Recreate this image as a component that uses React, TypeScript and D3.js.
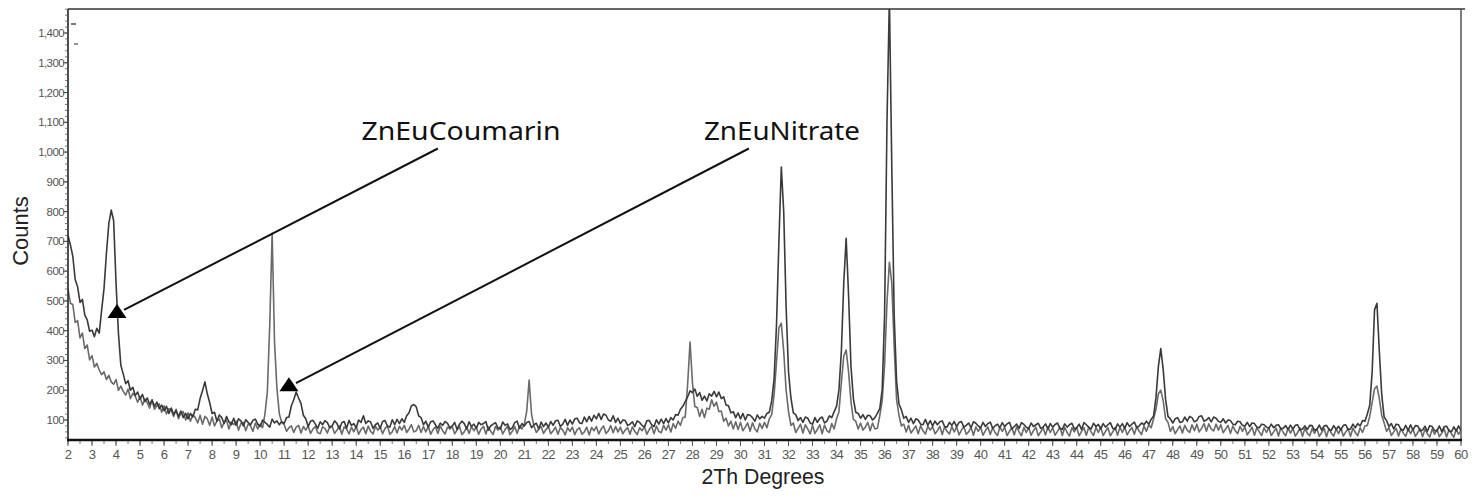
import React from "react";
import * as d3 from "d3";

// Scan grid (2θ, degrees)
const scanStart = 2;
const scanStep = 0.1;

// ZnEuCoumarin counts, one value per 0.1° from 2.0° to 60.0°
const coumarinCounts = [
  720, 688, 650, 572, 548, 495, 505, 452, 436, 398,
  402, 380, 408, 392, 468, 542, 660, 760, 805, 770,
  560, 392, 284, 255, 222, 232, 200, 210, 182, 194,
  170, 186, 162, 174, 152, 168, 146, 160, 138, 150,
  131, 146, 122, 140, 118, 132, 112, 130, 108, 122,
  104, 122, 110, 136, 134, 172, 198, 228, 188, 158,
  122, 126, 96, 117, 108, 88, 112, 94, 84, 106,
  82, 104, 97, 80, 101, 92, 84, 99, 103, 86,
  78, 100, 92, 85, 76, 103, 90, 97, 84, 95,
  88, 108, 110, 148, 168, 194, 174, 156, 116, 104,
  78, 96, 99, 86, 72, 94, 84, 98, 91, 74,
  80, 97, 88, 70, 91, 95, 72, 99, 82, 88,
  74, 100, 92, 114, 88, 97, 93, 72, 84, 90,
  72, 95, 98, 80, 76, 101, 84, 102, 88, 104,
  92, 114, 124, 148, 152, 144, 114, 108, 84, 96,
  76, 94, 97, 84, 72, 90, 82, 95, 89, 74,
  80, 92, 68, 86, 96, 88, 70, 94, 78, 86,
  72, 92, 84, 88, 95, 66, 80, 86, 91, 74,
  70, 93, 82, 87, 68, 74, 91, 96, 72, 88,
  80, 92, 95, 74, 84, 89, 70, 93, 78, 90,
  76, 95, 82, 97, 99, 78, 86, 102, 82, 100,
  86, 104, 106, 90, 88, 110, 94, 112, 96, 116,
  104, 122, 102, 120, 116, 100, 96, 114, 92, 106,
  88, 100, 98, 82, 86, 94, 78, 97, 92, 82,
  76, 97, 99, 84, 78, 101, 86, 103, 88, 105,
  90, 108, 100, 118, 116, 136, 146, 162, 178, 198,
  192, 204, 180, 192, 166, 180, 164, 188, 180, 196,
  178, 194, 172, 178, 150, 148, 124, 128, 108, 124,
  104, 122, 100, 118, 116, 108, 96, 117, 104, 112,
  106, 122, 126, 164, 238, 420, 700, 950, 800, 480,
  262, 174, 124, 118, 98, 108, 92, 110, 106, 90,
  86, 108, 92, 105, 110, 90, 96, 114, 108, 128,
  146, 202, 330, 560, 710, 520, 282, 172, 126, 122,
  106, 118, 102, 116, 114, 100, 108, 122, 138, 202,
  450, 1100, 1520, 950, 450, 230, 154, 134, 106, 112,
  92, 106, 88, 104, 100, 86, 84, 102, 82, 98,
  80, 96, 84, 94, 97, 78, 76, 92, 82, 95,
  78, 92, 95, 76, 82, 90, 74, 94, 89, 80,
  74, 92, 78, 88, 93, 72, 80, 86, 74, 91,
  78, 87, 92, 70, 78, 86, 72, 91, 85, 76,
  70, 90, 78, 84, 89, 72, 76, 87, 70, 88,
  76, 85, 90, 72, 68, 87, 76, 84, 89, 70,
  74, 86, 68, 91, 84, 76, 70, 89, 78, 85,
  70, 88, 76, 84, 91, 72, 68, 87, 76, 88,
  72, 91, 78, 86, 93, 74, 80, 90, 84, 96,
  86, 102, 114, 175, 280, 340, 270, 170, 112, 104,
  90, 104, 108, 92, 94, 110, 96, 112, 108, 94,
  98, 112, 114, 96, 100, 108, 94, 110, 106, 96,
  92, 104, 90, 100, 98, 86, 84, 96, 94, 82,
  80, 92, 78, 90, 88, 76, 74, 86, 84, 76,
  72, 86, 74, 82, 84, 70, 72, 81, 68, 83,
  70, 82, 84, 66, 70, 80, 68, 82, 81, 66,
  68, 83, 66, 80, 82, 69, 65, 81, 68, 79,
  66, 82, 84, 68, 70, 86, 74, 88, 80, 98,
  96, 120, 150, 260, 470, 492, 330, 185, 110, 98,
  78, 88, 70, 86, 84, 68, 66, 82, 64, 84,
  66, 81, 80, 63, 66, 79, 62, 81, 78, 64,
  63, 80, 61, 78, 79, 64, 60, 77, 63, 80,
  64,
];

// ZnEuNitrate counts, one value per 0.1° from 2.0° to 60.0°
const nitrateCounts = [
  540, 492, 488, 428, 434, 376, 392, 340, 352, 302,
  316, 278, 290, 268, 252, 262, 236, 250, 228, 220,
  236, 200, 214, 196, 184, 204, 172, 190, 180, 160,
  178, 150, 170, 158, 140, 166, 136, 148, 154, 126,
  148, 120, 138, 132, 112, 136, 104, 124, 128, 100,
  124, 96, 118, 108, 90, 116, 86, 112, 104, 82,
  110, 80, 96, 104, 74, 92, 100, 70, 94, 84,
  96, 66, 88, 92, 64, 86, 80, 62, 90, 70,
  86, 74, 120, 195, 420, 727, 360, 205, 120, 92,
  84, 62, 74, 80, 58, 76, 82, 56, 78, 66,
  80, 55, 70, 78, 57, 54, 77, 72, 56, 79,
  78, 55, 66, 80, 52, 77, 70, 53, 76, 60,
  79, 52, 68, 76, 54, 80, 62, 53, 79, 66,
  76, 54, 72, 80, 52, 60, 78, 56, 79, 66,
  82, 58, 70, 84, 60, 64, 82, 58, 78, 60,
  79, 52, 68, 77, 55, 80, 64, 53, 76, 70,
  77, 54, 66, 79, 51, 60, 76, 55, 78, 64,
  76, 52, 70, 79, 53, 77, 62, 51, 78, 66,
  77, 53, 68, 79, 51, 62, 78, 55, 80, 70,
  86, 130, 234, 120, 80, 58, 70, 78, 55, 68,
  77, 54, 64, 76, 52, 75, 66, 50, 74, 62,
  76, 51, 68, 74, 52, 60, 76, 50, 75, 64,
  78, 53, 70, 80, 55, 64, 81, 57, 78, 60,
  76, 54, 66, 75, 52, 77, 61, 51, 74, 64,
  77, 52, 68, 78, 54, 80, 62, 57, 82, 66,
  84, 60, 88, 72, 96, 82, 108, 110, 220, 362,
  225, 145, 142, 112, 136, 108, 140, 136, 168, 146,
  160, 128, 130, 96, 106, 80, 96, 70, 94, 68,
  92, 64, 76, 90, 62, 91, 70, 60, 89, 72,
  92, 74, 104, 118, 185, 295, 410, 425, 330, 200,
  128, 82, 90, 58, 72, 86, 56, 84, 70, 53,
  82, 55, 68, 84, 54, 83, 64, 58, 88, 70,
  104, 128, 225, 315, 335, 262, 162, 102, 96, 70,
  90, 66, 76, 92, 64, 90, 70, 72, 115, 165,
  285, 495, 630, 560, 345, 168, 116, 80, 86, 60,
  82, 56, 68, 80, 54, 81, 64, 53, 79, 66,
  78, 54, 64, 79, 51, 77, 62, 53, 78, 60,
  77, 50, 66, 78, 52, 60, 76, 49, 77, 62,
  75, 49, 64, 77, 51, 74, 58, 48, 76, 62,
  76, 48, 62, 74, 50, 77, 60, 47, 75, 58,
  75, 49, 64, 76, 47, 60, 74, 50, 76, 58,
  74, 49, 62, 76, 48, 75, 58, 46, 74, 60,
  75, 47, 62, 74, 49, 76, 60, 48, 75, 58,
  76, 48, 62, 74, 47, 60, 75, 49, 76, 58,
  76, 50, 64, 75, 52, 78, 62, 51, 80, 62,
  84, 74, 104, 136, 188, 200, 165, 104, 92, 62,
  78, 54, 68, 80, 56, 82, 66, 58, 84, 64,
  86, 60, 72, 88, 62, 87, 70, 63, 86, 66,
  84, 57, 70, 82, 55, 80, 64, 54, 79, 62,
  77, 50, 62, 76, 49, 75, 60, 48, 74, 58,
  74, 48, 60, 73, 46, 74, 58, 47, 72, 56,
  72, 46, 58, 73, 45, 72, 56, 47, 71, 55,
  71, 45, 58, 72, 44, 71, 56, 46, 70, 54,
  72, 46, 60, 71, 45, 73, 58, 47, 74, 58,
  80, 82, 112, 158, 205, 214, 172, 116, 90, 62,
  74, 48, 60, 72, 46, 71, 56, 45, 70, 54,
  70, 45, 58, 71, 44, 69, 54, 43, 70, 52,
  69, 44, 56, 70, 43, 68, 54, 42, 69, 52,
  66,
];

const xTicks = d3.range(2, 61, 1);
const xMinorTicks = d3.range(2, 60.01, 0.5);
const yTicks = [100, 200, 300, 400, 500, 600, 700, 800, 900, 1000, 1100, 1200, 1300, 1400];
const yMinorTicks = d3.range(40, 1481, 20);

// Annotation labels (data coordinates: 2θ, counts)
const annotationLabels = ["ZnEuCoumarin", "ZnEuNitrate"];
const annotationTextAt = [[14.22, 1040], [28.48, 1040]];
const annotationLineStart = [[17.4, 1012], [30.35, 1012]];
const annotationTip = [[4.04, 490], [11.2, 244]];
const annotationTextWidth = [199, 156];

const W = 1479;
const H = 498;
const left = 68;
const right = 1461;
const top = 9;
const bottom = 440;

export default function App() {
  const x = d3.scaleLinear().domain([2, 60]).range([left, right]);
  const y = d3.scaleLinear().domain([100, 1400]).range([420, 33]);

  const line = d3
    .line<number>()
    .x((_, i) => x(scanStart + i * scanStep))
    .y((d) => y(d));

  const fmt = d3.format(",");
  const tickFont = "'Liberation Sans', Arial, sans-serif";

  return (
    <svg
      width={W}
      height={H}
      style={{ position: "fixed", left: 0, top: 0, background: "#fff" }}
    >
      <defs>
        <clipPath id="plotClip">
          <rect x={left} y={top} width={right - left} height={bottom - top} />
        </clipPath>
      </defs>
      <rect x={0} y={0} width={W} height={H} fill="#fff" />

      {/* frame */}
      <line x1={left} y1={top} x2={right + 4} y2={top} stroke="#333" strokeWidth={1.5} />
      <line x1={right} y1={top} x2={right} y2={bottom} stroke="#555" strokeWidth={1.5} />

      {/* data */}
      <g clipPath="url(#plotClip)">
        <path d={line(nitrateCounts) || ""} fill="none" stroke="#6a6a6a" strokeWidth={1.6} strokeLinejoin="round" />
        <path d={line(coumarinCounts) || ""} fill="none" stroke="#3a3a3a" strokeWidth={1.6} strokeLinejoin="round" />
      </g>

      {/* small marks near top-left */}
      <line x1={71} y1={24} x2={76} y2={24} stroke="#333" strokeWidth={1.3} />
      <line x1={74} y1={44} x2={78} y2={44} stroke="#555" strokeWidth={1.3} />

      {/* y axis */}
      <line x1={left} y1={top} x2={left} y2={bottom + 2} stroke="#222" strokeWidth={1.6} />
      {yMinorTicks.map((v) => (
        <line key={"ym" + v} x1={left - 3} x2={left} y1={y(v)} y2={y(v)} stroke="#555" strokeWidth={0.8} />
      ))}
      {yTicks.map((v) => (
        <g key={"y" + v}>
          <line x1={left - 5} x2={left} y1={y(v)} y2={y(v)} stroke="#444" strokeWidth={1} />
          <text
            x={left - 4}
            y={y(v)}
            dy="0.35em"
            textAnchor="end"
            fontFamily={tickFont}
            fontSize={11.5}
            fill="#555"
            letterSpacing={-0.6}
          >
            {fmt(v)}
          </text>
        </g>
      ))}

      {/* x axis */}
      <line x1={left - 1} y1={bottom} x2={right + 1} y2={bottom} stroke="#111" strokeWidth={2.6} />
      {xMinorTicks.map((v) => (
        <line key={"xm" + v} x1={x(v)} x2={x(v)} y1={bottom + 1} y2={bottom + 4} stroke="#666" strokeWidth={0.9} />
      ))}
      {xTicks.map((v) => (
        <g key={"x" + v}>
          <line x1={x(v)} x2={x(v)} y1={bottom + 1} y2={bottom + 6} stroke="#555" strokeWidth={1} />
          <text
            x={x(v)}
            y={459}
            textAnchor="middle"
            fontFamily={tickFont}
            fontSize={13}
            fill="#555"
            letterSpacing={-0.6}
          >
            {v}
          </text>
        </g>
      ))}

      {/* axis titles */}
      <text
        x={763}
        y={484}
        textAnchor="middle"
        fontFamily={tickFont}
        fontSize={22}
        fill="#222"
        textLength={123}
        lengthAdjust="spacingAndGlyphs"
      >
        2Th Degrees
      </text>
      <text
        transform="translate(28,231) rotate(-90)"
        textAnchor="middle"
        fontFamily={tickFont}
        fontSize={22}
        fill="#222"
      >
        Counts
      </text>

      {/* annotations */}
      {annotationLabels.map((label, i) => {
        const [tx, tv] = annotationTextAt[i];
        const [sx, sv] = annotationLineStart[i];
        const [ax, av] = annotationTip[i];
        const px = x(ax);
        const py = y(av);
        const tri = `M${px},${py} L${px - 9.5},${py + 14} L${px + 9.5},${py + 14} Z`;
        return (
          <g key={label}>
            <line x1={x(sx)} y1={y(sv)} x2={px + 7} y2={py + 6} stroke="#111" strokeWidth={2} />
            <path d={tri} fill="#000" />
            <text
              x={x(tx)}
              y={y(tv)}
              fontFamily="'Noto Sans', 'Open Sans', sans-serif"
              fontSize={26}
              fill="#111"
              textLength={annotationTextWidth[i]}
              lengthAdjust="spacingAndGlyphs"
            >
              {label}
            </text>
          </g>
        );
      })}
    </svg>
  );
}
